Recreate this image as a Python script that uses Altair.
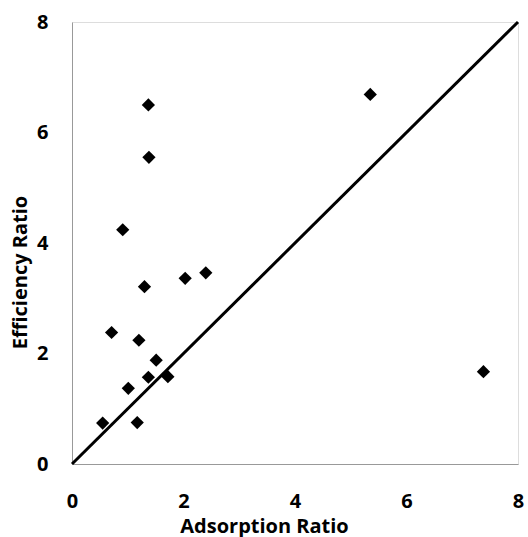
import altair as alt
import pandas as pd

adsorption = [1.37, 1.38, 0.91, 2.40, 2.03, 5.35, 1.30, 0.71, 1.20, 1.51, 1.37, 1.72, 1.01, 0.55, 1.17, 7.38]
efficiency = [6.50, 5.55, 4.24, 3.46, 3.36, 6.69, 3.21, 2.38, 2.24, 1.88, 1.57, 1.58, 1.37, 0.74, 0.75, 1.67]
line_x = [0, 8]
line_y = [0, 8]
ticks = [0, 2, 4, 6, 8]

pts = pd.DataFrame({"x": adsorption, "y": efficiency})
ln = pd.DataFrame({"x": line_x, "y": line_y})

FONT = "Open Sans"

xscale = alt.Scale(domain=[0, 8], nice=False)
yscale = alt.Scale(domain=[0, 8], nice=False)

xaxis = alt.Axis(
    title="Adsorption Ratio", values=ticks, format="d", grid=False, ticks=False, tickSize=0,
    domainColor="#999999", domainWidth=1,
    labelFont=FONT, labelFontSize=20, labelFontWeight="bold", labelColor="#000000",
    labelBaseline="alphabetic", labelPadding=43, labelFlush=False,
    titleFont=FONT, titleFontSize=20, titleFontWeight="bold", titleColor="#000000",
    titleX=192, titleY=68, titleBaseline="alphabetic",
)
yaxis = alt.Axis(
    title="Efficiency Ratio", values=ticks, format="d", grid=False, ticks=False, tickSize=0,
    domainColor="#999999", domainWidth=1,
    labelFont=FONT, labelFontSize=20, labelFontWeight="bold", labelColor="#000000",
    labelPadding=24, labelFlush=False,
    titleFont=FONT, titleFontSize=20, titleFontWeight="bold", titleColor="#000000",
    titleX=-42, titleY=250, titleBaseline="bottom",
)

line = alt.Chart(ln).mark_line(color="black", strokeWidth=3).encode(
    x=alt.X("x:Q", scale=xscale, axis=xaxis),
    y=alt.Y("y:Q", scale=yscale, axis=yaxis),
)
points = alt.Chart(pts).mark_point(shape="diamond", filled=True, size=175, color="black", opacity=1).encode(
    x=alt.X("x:Q", scale=xscale),
    y=alt.Y("y:Q", scale=yscale),
)

chart = alt.layer(line, points).properties(
    width=446, height=442,
    autosize=alt.AutoSizeParams(type="none"),
    padding={"left": 72, "top": 22, "right": 10, "bottom": 73},
).configure_view(stroke=None).configure(background="white")

chart.save("out.html", embed_options={"renderer": "svg", "actions": False})
